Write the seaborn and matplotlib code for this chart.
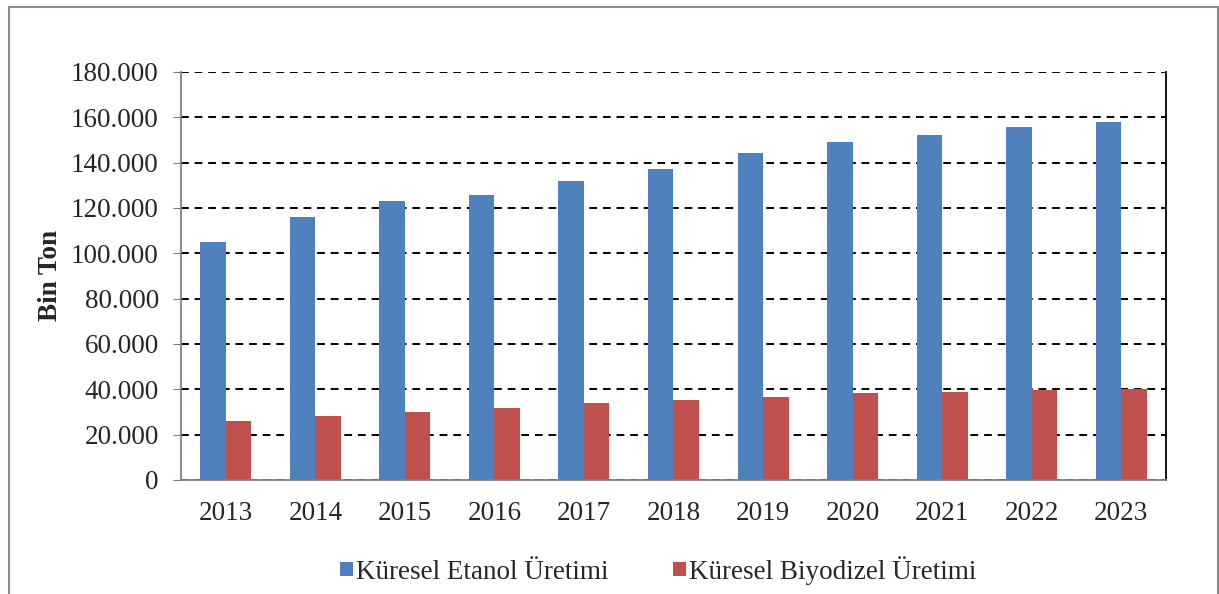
import numpy as np
import pandas as pd
import matplotlib
matplotlib.use('Agg')
import matplotlib.pyplot as plt
import seaborn as sns
from matplotlib.ticker import FuncFormatter
from matplotlib.patches import Rectangle

# ── data (Bin Ton) ──
years = ['2013', '2014', '2015', '2016', '2017', '2018', '2019', '2020', '2021', '2022', '2023']
etanol = [105000, 116000, 123000, 125600, 131800, 137000, 144100, 149000, 152200, 155700, 157900]
biyodizel = [26200, 28300, 30000, 31700, 33800, 35400, 36700, 38400, 38900, 39600, 40100]
series_names = ['Küresel Etanol Üretimi', 'Küresel Biyodizel Üretimi']
colors = ['#4F81BD', '#C0504D']

df = pd.DataFrame({
    'Yıl': years * 2,
    'Değer': etanol + biyodizel,
    'Seri': [series_names[0]] * len(years) + [series_names[1]] * len(years),
})

sns.set_style('white')
plt.rcParams['font.family'] = ['Liberation Serif', 'DejaVu Serif']

fig = plt.figure(figsize=(12.19, 5.94), dpi=100)
ax = fig.add_axes([0.1485, 0.192, 0.808, 0.687])

sns.barplot(data=df, x='Yıl', y='Değer', hue='Seri', palette=colors,
            width=0.57, ax=ax, edgecolor='none', saturation=1)

# dashed grid
ax.set_ylim(0, 180000)
ax.set_yticks(np.arange(0, 180001, 20000))
ax.yaxis.grid(True, linestyle=(0, (4, 3)), color='black', linewidth=1.4)
ax.set_axisbelow(True)
ax.yaxis.set_major_formatter(FuncFormatter(lambda v, p: f'{int(v):,}'.replace(',', '.')))

ax.spines['top'].set_visible(False)
ax.spines['left'].set_color('#808080')
ax.spines['bottom'].set_color('#808080')
ax.spines['right'].set_color('black')
for s in ['left', 'bottom', 'right']:
    ax.spines[s].set_linewidth(1.3)

ax.tick_params(axis='y', which='major', left=True, length=6, color='#808080',
               labelsize=19.5, pad=10)
ax.tick_params(axis='x', bottom=False, labelsize=19.5, pad=12)
ax.set_xlabel('')
ax.set_ylabel('Bin Ton', fontsize=19.5, fontweight='bold', labelpad=6)

ax.legend(loc='center', bbox_to_anchor=(0.54, 0.04), bbox_transform=fig.transFigure,
          ncol=2, frameon=False, fontsize=19.5, handlelength=0.45, handleheight=0.45,
          handletextpad=0.12, columnspacing=2.4)

# outer chart border
fig.patches.append(Rectangle((9 / 1219, -0.05), 1209 / 1219, 1.05 - 7 / 594,
                             transform=fig.transFigure, fill=False,
                             edgecolor='#8c8c8c', linewidth=1.5))

fig.savefig('out.png', dpi=100)
